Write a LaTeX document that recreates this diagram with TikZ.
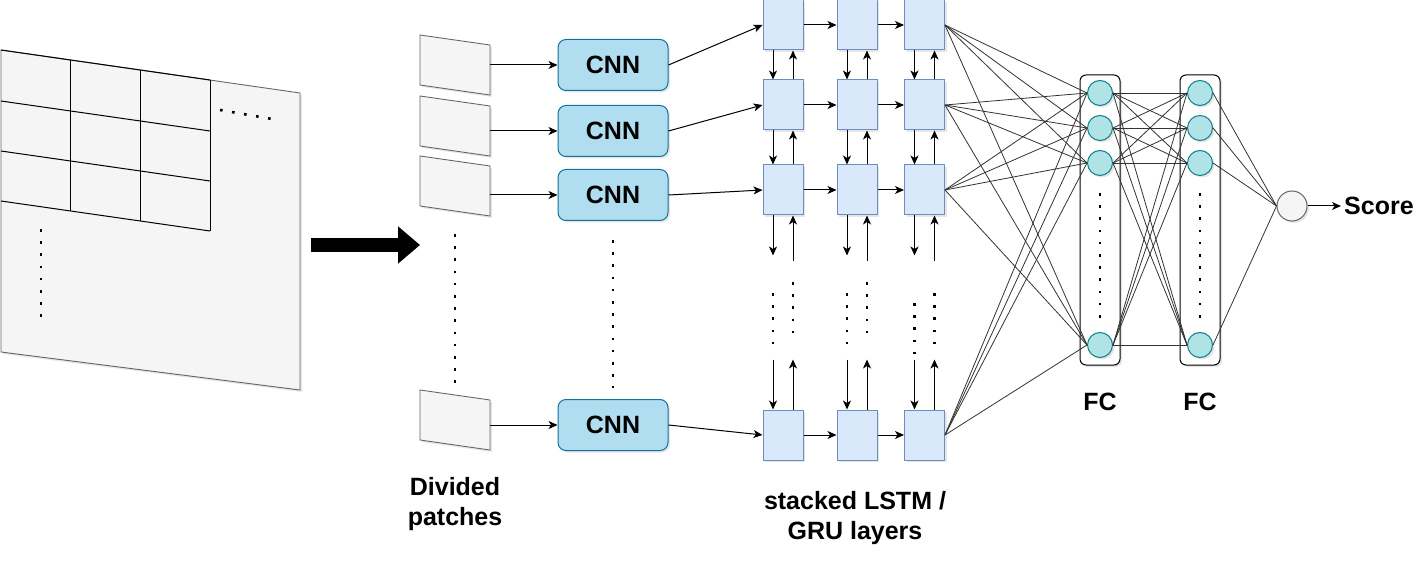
\documentclass[tikz,border=0pt]{standalone}
\usepackage{xcolor}
\usepackage{fontspec}
\setmainfont{Liberation Sans}
\usetikzlibrary{arrows.meta, shadows, positioning}

\definecolor{sheetfill}{HTML}{F5F5F5}
\definecolor{sheetline}{HTML}{666666}
\definecolor{cnnfill}{HTML}{B1DDF0}
\definecolor{cnnline}{HTML}{10739E}
\definecolor{cellfill}{HTML}{DAE8FC}
\definecolor{cellline}{HTML}{6C8EBF}
\definecolor{nfill}{HTML}{B0E3E6}
\definecolor{nline}{HTML}{0E8088}

\begin{document}
\begin{tikzpicture}[x=1pt, y=-1pt, font=\fontsize{25}{30}\selectfont\bfseries]
            \tikzset{
                shade/.style={drop shadow={opacity=0.2, shadow xshift=2pt, shadow yshift=-2pt}},
                sheet/.style={draw=sheetline, fill=sheetfill, line width=0.9pt, shade},
                cnnbox/.style={draw=cnnline, fill=cnnfill, line width=1pt, rounded corners=8pt,
                    minimum width=110pt, minimum height=51pt, shade},
                cell/.style={draw=cellline, fill=cellfill, line width=1pt,
                    minimum width=40pt, minimum height=50pt, shade},
                fcbox/.style={draw, fill=white, line width=1pt, rounded corners=6pt,
                    minimum width=40pt, minimum height=290pt, shade},
                neuron/.style={circle, draw=nline, fill=nfill, line width=1pt, minimum size=25pt, shade},
                outnode/.style={circle, draw=sheetline, fill=sheetfill, line width=1pt, minimum size=30pt, shade},
                arr/.style={line width=1pt, -{Stealth[length=9pt, width=8pt, inset=2.5pt]}},
                revarr/.style={line width=1pt, {Stealth[length=9pt, width=8pt, inset=2.5pt]}-},
                link/.style={line width=0.8pt, black!80},
                dotline/.style={line width=2.6pt, dash pattern=on 2.6pt off 9.6pt},
            }
            \useasboundingbox (0,0) rectangle (1427,572);

            % input image with grid
            \draw[sheet] (1,50) -- (300,93) -- (300,390) -- (1,352) -- cycle;
            \foreach \y in {50,101,151,201}
                \draw[line width=1pt] (1,\y) -- (210,\y+30);
            \foreach \x/\t in {70/60,140/70,210/80}
                \draw[line width=1pt] (\x,\t) -- (\x,\t+151);
            \draw[dotline] (220,110) -- (272,119);
            \draw[dotline] (41,229) -- (41,318);

            % big arrow
            \coordinate (imgout) at (311,245);
            \coordinate (patchin) at (420,245);
            \draw[line width=14pt, -{Triangle[length=22pt, width=36pt]}] (imgout) -- (patchin);

            % patches and CNNs
            \foreach \i/\t/\c in {1/35/65, 2/96/131, 3/156/195, 4/390/425} {
                \draw[sheet] (420,\t) -- ++(70,10) -- ++(0,50) -- ++(-70,-10) -- cycle;
                \coordinate (pt\i) at (490,\c);
                \node[cnnbox] (cnn\i) at (613,\c) {CNN};
                \draw[arr] (pt\i) -- (cnn\i);
            }
            \draw[dotline] (455,234) -- (455,384);
            \draw[dotline] (613,240) -- (613,388);

            % stacked recurrent cells
            \foreach \r/\y in {1/25, 2/105, 3/190, 4/435}
                \foreach \c/\x in {1/783, 2/857, 3/924.5}
                    \node[cell] (c\r\c) at (\x,\y) {};
            \foreach \r in {1,...,4} {
                \draw[arr] (cnn\r.east) -- (c\r1.west);
                \draw[arr] (c\r1) -- (c\r2);
                \draw[arr] (c\r2) -- (c\r3);
            }
            \foreach \c in {1,2,3} {
                \foreach \r/\s in {1/2, 2/3} {
                    \draw[arr] ([xshift=-10pt]c\r\c.south) -- ([xshift=-10pt]c\s\c.north);
                    \draw[arr] ([xshift=10pt]c\s\c.north) -- ([xshift=10pt]c\r\c.south);
                }
                \draw[arr] ([xshift=-10pt]c3\c.south) -- ++(0,40);
                \draw[revarr] ([xshift=10pt]c3\c.south) -- ++(0,45);
                \draw[arr] ([xshift=-10pt]c4\c.north) ++(0,-50) -- ([xshift=-10pt]c4\c.north);
                \draw[revarr] ([xshift=10pt]c4\c.north) ++(0,-50) -- ([xshift=10pt]c4\c.north);
            }
            \foreach \x/\t in {773/293, 847/293, 914.5/303, 793/282, 867/282, 934.5/293}
                \draw[dotline] (\x,\t) -- (\x,\t+52);

            % fully connected layers
            \node[fcbox] (fc1) at (1100,220) {};
            \node[fcbox] (fc2) at (1200,220) {};
            \foreach \k/\y in {1/93, 2/128, 3/163, 4/345} {
                \node[neuron] (a\k) at (1100,\y) {};
                \node[neuron] (b\k) at (1200,\y) {};
            }
            \draw[dotline] (1100,193) -- (1100,318);
            \draw[dotline] (1200,193) -- (1200,318);
            \node[outnode] (out) at (1292,206) {};
            \foreach \r in {1,...,4}
                \foreach \k in {1,...,4}
                    \draw[link] (c\r3.east) -- (a\k.west);
            \foreach \k in {1,...,4}
                \foreach \m in {1,...,4}
                    \draw[link] (a\k.east) -- (b\m.west);
            \foreach \m in {1,...,4}
                \draw[link] (b\m.east) -- (out.west);
            \node[anchor=west, inner sep=3pt] (score) at (1341,206) {Score};
            \draw[arr] (out) -- (score);

            % labels
            \node[align=center] (patchlbl) at (455,504) {Divided\\patches};
            \node[align=center] (celllbl) at (855,518) {stacked LSTM /\\GRU layers};
            \node (fc1lbl) at (1100,402) {FC};
            \node (fc2lbl) at (1200,402) {FC};
        \end{tikzpicture}
\end{document}
